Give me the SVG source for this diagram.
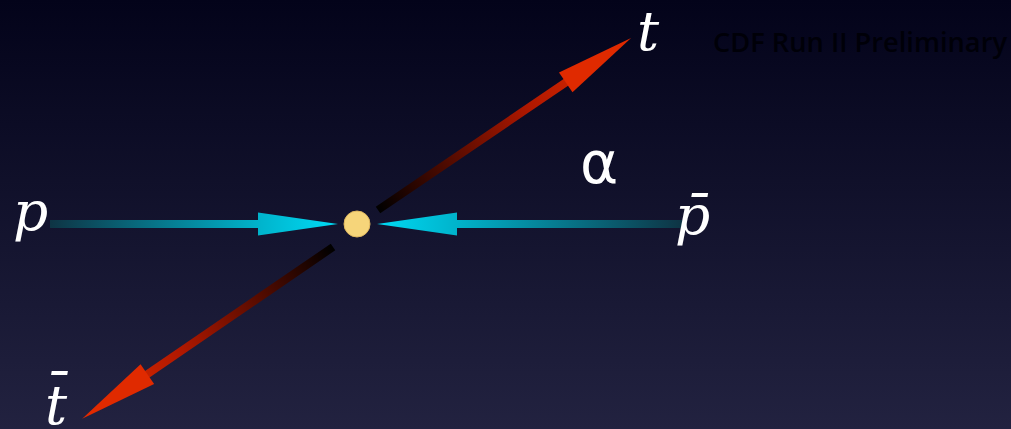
<svg xmlns="http://www.w3.org/2000/svg" width="1011" height="429" viewBox="0 0 1011 429">
  <defs>
    <linearGradient id="bg" x1="0" y1="0" x2="0" y2="1">
      <stop offset="0" stop-color="#03031a"/>
      <stop offset="1" stop-color="#222240"/>
    </linearGradient>
    <linearGradient id="cyanL" gradientUnits="userSpaceOnUse" x1="50" y1="0" x2="330" y2="0">
      <stop offset="0" stop-color="#0e3444"/>
      <stop offset="0.75" stop-color="#00b4cc"/>
      <stop offset="1" stop-color="#00d8f2"/>
    </linearGradient>
    <linearGradient id="cyanR" gradientUnits="userSpaceOnUse" x1="682" y1="0" x2="380" y2="0">
      <stop offset="0" stop-color="#0e3444"/>
      <stop offset="0.75" stop-color="#00b4cc"/>
      <stop offset="1" stop-color="#00d8f2"/>
    </linearGradient>
    <linearGradient id="red" gradientUnits="userSpaceOnUse" x1="0" y1="0" x2="306" y2="0">
      <stop offset="0" stop-color="#000000"/>
      <stop offset="0.6" stop-color="#b01800"/>
      <stop offset="1" stop-color="#e83000"/>
    </linearGradient>
    <style>
      .lbl { font-family: "DejaVu Serif", "Liberation Serif", serif; font-style: italic; fill: #ffffff; font-size: 55px; }
      .alpha { font-family: "DejaVu Sans", "Noto Sans", sans-serif; fill: #ffffff; font-size: 58px; }
      .cdf { font-family: "Open Sans", "Liberation Sans", sans-serif; fill: #000008; font-size: 27px; font-weight: 600; }
    </style>
  </defs>
  <rect x="0" y="0" width="1011" height="429" fill="url(#bg)"/>

  <g id="connectors">
    <g id="beam-p">
      <rect x="50" y="220" width="212" height="8" fill="url(#cyanL)"/>
      <polygon points="258,212.5 338,224 258,235.5" fill="url(#cyanL)"/>
    </g>
    <g id="beam-pbar">
      <rect x="453" y="220" width="229" height="8" fill="url(#cyanR)"/>
      <polygon points="457,212.5 377,224 457,235.5" fill="url(#cyanR)"/>
    </g>
    <g id="arrow-t" transform="translate(378,210) rotate(-34.2)">
      <rect x="0" y="-4" width="232" height="8" fill="url(#red)"/>
      <polygon points="227,-12 306,0 227,12" fill="#e02a00"/>
    </g>
    <g id="arrow-tbar" transform="translate(333,247) rotate(145.6)">
      <rect x="0" y="-4" width="230" height="8" fill="url(#red)"/>
      <polygon points="225,-12 304,0 225,12" fill="#e02a00"/>
    </g>
  </g>

  <g id="vertex">
    <circle cx="357" cy="224" r="13" fill="#f6d57a" stroke="#e0b860" stroke-width="1"/>
  </g>
  <g id="node-p"><text class="lbl" x="13" y="230">p</text></g>
  <g id="node-pbar"><text class="lbl" x="675" y="234">p̄</text></g>
  <g id="node-t"><text class="lbl" x="637" y="50">t</text></g>
  <g id="node-tbar"><text class="lbl" x="45" y="424">t̄</text></g>
  <g id="angle"><text class="alpha" x="580" y="183">α</text></g>
  <g id="caption"><text class="cdf" x="713" y="52" textLength="294" lengthAdjust="spacingAndGlyphs">CDF Run II Preliminary</text></g>
</svg>
